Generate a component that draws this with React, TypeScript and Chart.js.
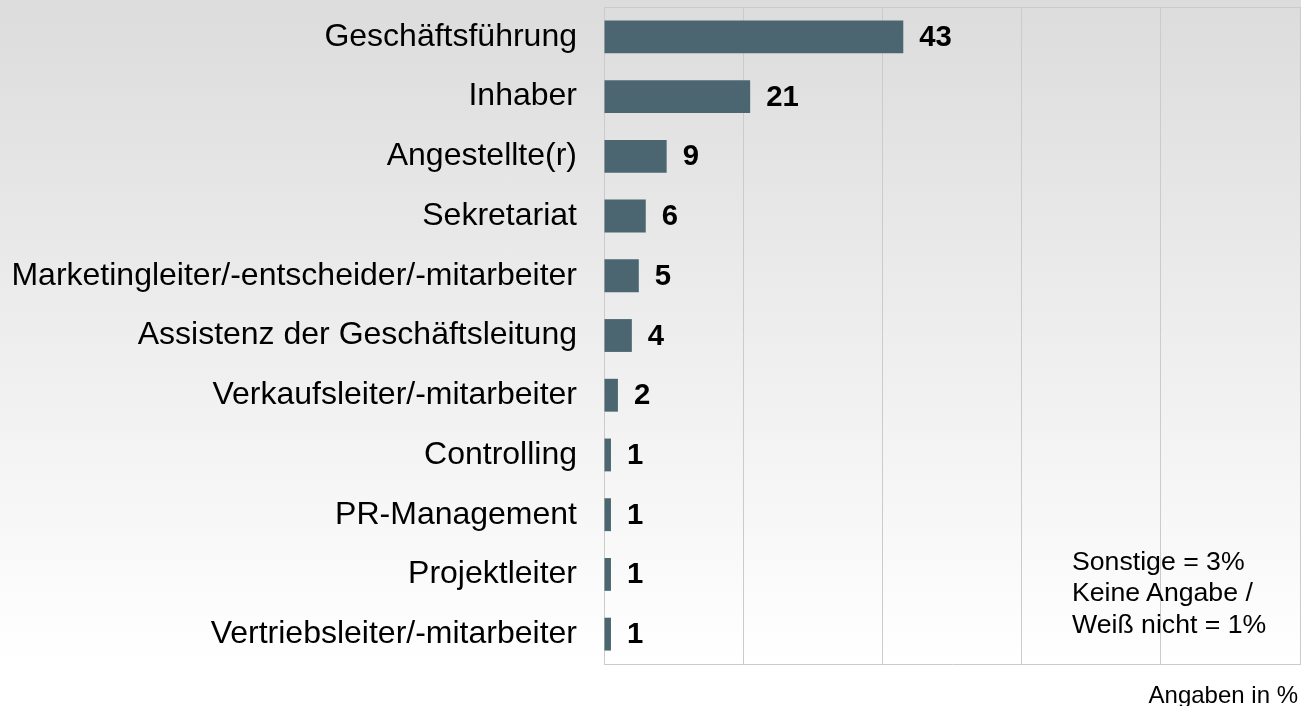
import React, { useEffect, useRef } from "react";
import { Chart, registerables } from "chart.js";

Chart.register(...registerables);

const categories = [
  "Geschäftsführung",
  "Inhaber",
  "Angestellte(r)",
  "Sekretariat",
  "Marketingleiter/-entscheider/-mitarbeiter",
  "Assistenz der Geschäftsleitung",
  "Verkaufsleiter/-mitarbeiter",
  "Controlling",
  "PR-Management",
  "Projektleiter",
  "Vertriebsleiter/-mitarbeiter",
];
const values = [43, 21, 9, 6, 5, 4, 2, 1, 1, 1, 1];
const noteLines = ["Sonstige = 3%", "Keine Angabe /", "Weiß nicht = 1%"];
const unitNote = "Angaben in %";
const xMin = 0;
const xMax = 100;
const xStep = 20;

const FONT = "'Liberation Sans', Arial, Helvetica, sans-serif";
const BAR_COLOR = "#4b6670";
const GRID_COLOR = "#cbcbcb";

const valueLabels = {
  id: "valueLabels",
  afterDatasetsDraw(chart: any) {
    const ctx = chart.ctx;
    const meta = chart.getDatasetMeta(0);
    ctx.save();
    ctx.font = `bold 29.3px ${FONT}`;
    ctx.fillStyle = "#000000";
    ctx.textBaseline = "middle";
    ctx.textAlign = "left";
    meta.data.forEach((el: any, i: number) => {
      ctx.fillText(String(values[i]), el.x + 16, el.y + 1);
    });
    ctx.restore();
  },
};

const frame = {
  id: "frame",
  beforeDatasetsDraw(chart: any) {
    const { ctx, chartArea } = chart;
    ctx.save();
    ctx.strokeStyle = GRID_COLOR;
    ctx.lineWidth = 1;
    ctx.beginPath();
    ctx.moveTo(chartArea.left, Math.round(chartArea.top) + 0.5);
    ctx.lineTo(chartArea.right, Math.round(chartArea.top) + 0.5);
    ctx.stroke();
    ctx.restore();
  },
};

export default function App() {
  const canvasRef = useRef<HTMLCanvasElement | null>(null);

  useEffect(() => {
    const canvas = canvasRef.current;
    if (!canvas) return;
    const chart = new Chart(canvas, {
      type: "bar",
      data: {
        labels: categories,
        datasets: [
          {
            data: values,
            backgroundColor: BAR_COLOR,
            borderWidth: 0,
            barPercentage: 0.55,
            categoryPercentage: 1,
          },
        ],
      },
      options: {
        indexAxis: "y",
        responsive: false,
        animation: false,
        devicePixelRatio: 1,
        layout: { padding: { top: 7, bottom: 42, left: 0, right: 1 } },
        plugins: {
          legend: { display: false },
          tooltip: { enabled: false },
        },
        scales: {
          x: {
            min: xMin,
            max: xMax,
            ticks: { display: false, stepSize: xStep },
            grid: { color: GRID_COLOR, drawTicks: false, lineWidth: 1 },
            border: { display: true, color: GRID_COLOR },
            afterFit(scale: any) {
              scale.paddingLeft = 0;
              scale.paddingRight = 0;
            },
          },
          y: {
            ticks: {
              font: { family: FONT, size: 32 },
              color: "#000000",
              padding: 27,
            },
            grid: { display: false, drawTicks: false },
            border: { display: false },
            afterFit(scale: any) {
              scale.width = 604;
              scale.paddingTop = 0;
              scale.paddingBottom = 0;
            },
          },
        },
      },
      plugins: [frame, valueLabels],
    } as any);
    return () => chart.destroy();
  }, []);

  return (
    <div
      style={{
        position: "fixed",
        left: 0,
        top: 0,
        width: 1301,
        height: 706,
        overflow: "hidden",
        background: "linear-gradient(to bottom, #dcdcdc 0%, #ffffff 94%, #ffffff 100%)",
        fontFamily: FONT,
      }}
    >
      <canvas
        ref={canvasRef}
        width={1301}
        height={706}
        style={{ position: "absolute", left: 0, top: 0, width: 1301, height: 706 }}
      />
      <div
        style={{
          position: "absolute",
          left: 1072,
          top: 545.6,
          fontSize: 26.67,
          lineHeight: "31.8px",
          color: "#000",
          whiteSpace: "nowrap",
        }}
      >
        {noteLines.map((l, i) => (
          <div key={i}>{l}</div>
        ))}
      </div>
      <div
        style={{
          position: "absolute",
          right: 3,
          top: 681,
          fontSize: 24,
          color: "#000",
          whiteSpace: "nowrap",
        }}
      >
        {unitNote}
      </div>
    </div>
  );
}
